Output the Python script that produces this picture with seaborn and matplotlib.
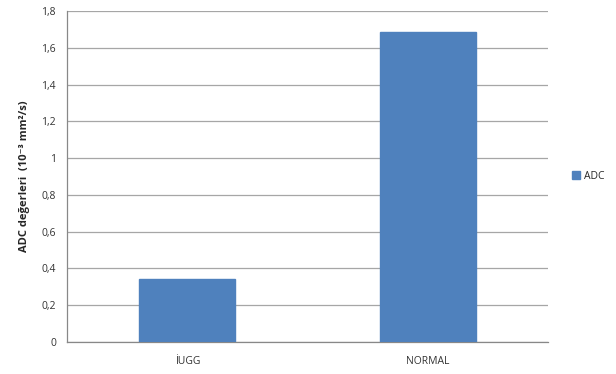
import matplotlib
matplotlib.use('Agg')
import matplotlib.pyplot as plt
import seaborn as sns
import pandas as pd
import numpy as np

# data
categories = ['İUGG', 'NORMAL']
adc_values = [0.342, 1.685]
series_name = 'ADC'
y_ticks = [0, 0.2, 0.4, 0.6, 0.8, 1.0, 1.2, 1.4, 1.6, 1.8]

df = pd.DataFrame({'group': categories, 'value': adc_values, 'series': [series_name] * len(categories)})

sns.set_style('white')
plt.rcParams['font.family'] = ['Open Sans', 'DejaVu Sans']

fig = plt.figure(figsize=(6.16, 3.74), dpi=100)
ax = fig.add_axes([0.1088, 0.0856, 0.7808, 0.885])

sns.barplot(data=df, x='group', y='value', hue='series', palette=['#4F81BD'],
            saturation=1, width=0.4, ax=ax, zorder=3, edgecolor='#4F81BD')

ax.set_ylim(0, 1.8)
ax.set_xlim(-0.5, 1.5)
ax.set_yticks(y_ticks)
ax.set_yticklabels([('%g' % t).replace('.', ',') for t in y_ticks], fontsize=7.5, color='#333333')
ax.tick_params(axis='x', length=0, labelsize=7.5, labelcolor='#333333', pad=10)
ax.tick_params(axis='y', length=4, width=0.8, color='#888888', direction='out', pad=4)
ax.yaxis.grid(True, color='#A6A6A6', linewidth=0.9, zorder=0)
ax.set_axisbelow(True)

for s in ['top', 'right']:
    ax.spines[s].set_visible(False)
for s in ['left', 'bottom']:
    ax.spines[s].set_color('#888888')
    ax.spines[s].set_linewidth(0.9)

ax.set_xlabel('')
ax.set_ylabel('ADC değerleri  (10⁻³ mm²/s)', fontsize=8, fontweight='bold', labelpad=8)

leg = ax.legend(loc='center left', bbox_to_anchor=(1.03, 0.5), frameon=False,
                fontsize=7.5, handlelength=0.8, handleheight=0.8, handletextpad=0.4)

fig.savefig('out.png', dpi=100)
